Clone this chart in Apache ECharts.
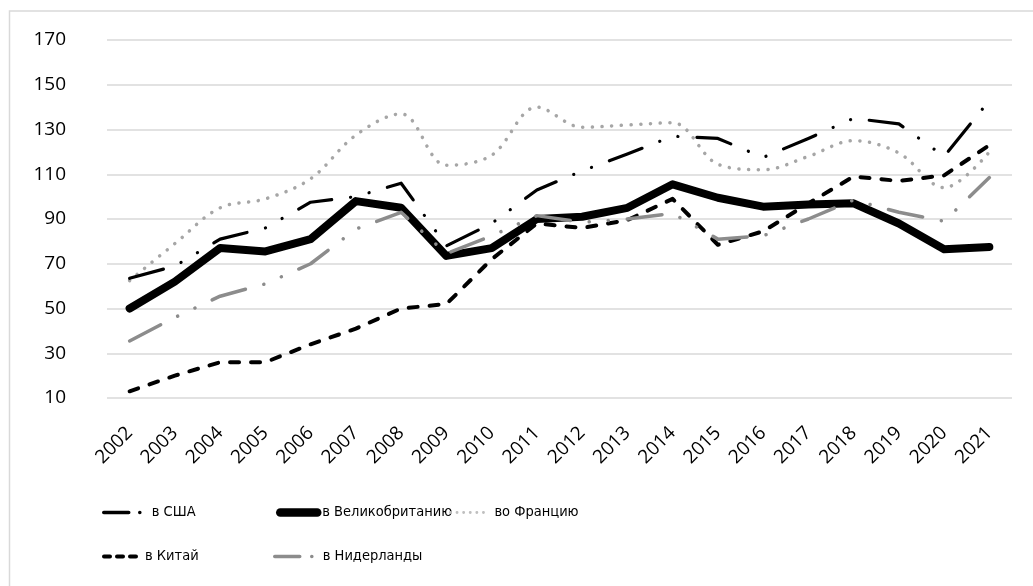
<!DOCTYPE html>
<html>
<head>
<meta charset="utf-8">
<script src="https://cdn.jsdelivr.net/npm/echarts@6/dist/echarts.min.js"></script>
<style>
html,body{margin:0;padding:0;background:#fff;}
#chart{width:1033px;height:586px;}
</style>
</head>
<body>
<div id="chart"></div>
<script>
const years = ['2002','2003','2004','2005','2006','2007','2008','2009','2010','2011','2012','2013','2014','2015','2016','2017','2018','2019','2020','2021'];
const usa    = [63.5, 69, 81, 86, 97.5, 100, 106, 78, 88, 103, 111.5, 119, 127, 126, 117.5, 126, 135, 132.5, 118, 143];
const uk     = [50, 62, 77, 75.5, 81, 98, 95, 73.5, 77, 90, 91, 95, 105.5, 99.5, 95.5, 96.5, 97, 88, 76.5, 77.5];
const france = [62.5, 79, 95, 99, 108, 127.5, 137, 114, 118.5, 140, 131, 132, 133, 114.5, 112, 118, 125, 119.5, 104, 120];
const china  = [13, 20, 26, 26, 34, 41, 50, 52, 72, 88, 86, 89.5, 99, 78.5, 84.5, 97, 109, 107, 109.5, 123];
const nl     = [35.5, 46, 55.5, 61, 70, 85.5, 93, 74.5, 82.5, 91.5, 88.5, 90, 92.5, 81, 82.5, 90, 98.5, 93, 89, 108.5];
const names  = ['в США', 'в Великобританию', 'во Францию', 'в Китай', 'в Нидерланды'];
const yTicks = { min: 10, max: 170, interval: 20 };

const axisFont = "'Open Sans', 'Noto Sans', sans-serif";
const legendFont = "'DejaVu Sans', sans-serif";

function legend(name, left, top, w, ls) {
  return {
    data: [name], left: left, top: top, padding: 0,
    itemWidth: w, itemHeight: 14, itemGap: 0, selectedMode: false,
    itemStyle: { opacity: 0 },
    lineStyle: Object.assign({ cap: 'round', join: 'round' }, ls),
    textStyle: { fontFamily: legendFont, fontWeight: 'normal condensed', fontSize: 14.5, color: '#000' }
  };
}

const chart = echarts.init(document.getElementById('chart'), null, { renderer: 'canvas' });
chart.setOption({
  animation: false,
  backgroundColor: '#fff',
  graphic: [{
    type: 'rect', silent: true, z: -1,
    shape: { x: 9.5, y: 11, width: 1200, height: 800 },
    style: { fill: 'none', stroke: '#d9d9d9', lineWidth: 1.5 }
  }],
  grid: { left: 107, right: 21, top: 40, bottom: 188 },
  legend: [
    legend(names[0], 102, 505, 43, { color: '#000', width: 3.5, type: [25, 11, 0.1, 40] }),
    legend(names[1], 276, 505, 37, { color: '#000', width: 8.5, type: 'solid' }),
    legend(names[2], 449, 505, 39, { color: '#bfbfbf', width: 2.8, type: [0.1, 6.5] }),
    legend(names[3], 102, 549, 36, { color: '#000', width: 4, type: [6, 7] }),
    legend(names[4], 273, 549, 43, { color: '#8c8c8c', width: 3.5, type: [25, 12, 0.1, 40] })
  ],
  xAxis: {
    type: 'category', data: years, boundaryGap: true,
    axisLine: { show: false }, axisTick: { show: false },
    axisLabel: { rotate: 45, margin: 32, fontFamily: axisFont, fontSize: 19, color: '#000', interval: 0 }
  },
  yAxis: {
    type: 'value', min: yTicks.min, max: yTicks.max, interval: yTicks.interval,
    axisLine: { show: false }, axisTick: { show: false },
    axisLabel: { margin: 41, fontFamily: axisFont, fontSize: 19, color: '#000' },
    splitLine: { lineStyle: { color: '#d9d9d9', width: 1.5 } }
  },
  series: [
    { name: names[0], type: 'line', data: usa, symbol: 'none', z: 5,
      lineStyle: { color: '#000', width: 3.2, type: [35, 19, 0.1, 19, 0.1, 19], cap: 'round', join: 'round' },
      itemStyle: { color: '#000' } },
    { name: names[1], type: 'line', data: uk, symbol: 'none', z: 3,
      lineStyle: { color: '#000', width: 8, type: 'solid', cap: 'round', join: 'round' },
      itemStyle: { color: '#000' } },
    { name: names[2], type: 'line', data: france, symbol: 'none', smooth: 0.35, z: 2,
      lineStyle: { color: '#a6a6a6', width: 3.5, type: [0.1, 9.6], cap: 'round', join: 'round' },
      itemStyle: { color: '#a6a6a6' } },
    { name: names[3], type: 'line', data: china, symbol: 'none', z: 4,
      lineStyle: { color: '#000', width: 4, type: [9, 12], cap: 'round', join: 'round' },
      itemStyle: { color: '#000' } },
    { name: names[4], type: 'line', data: nl, symbol: 'none', z: 4,
      lineStyle: { color: '#8c8c8c', width: 3.5, type: [35, 19, 0.1, 19, 0.1, 19], cap: 'round', join: 'round' },
      itemStyle: { color: '#8c8c8c' } }
  ]
});
</script>
</body>
</html>
